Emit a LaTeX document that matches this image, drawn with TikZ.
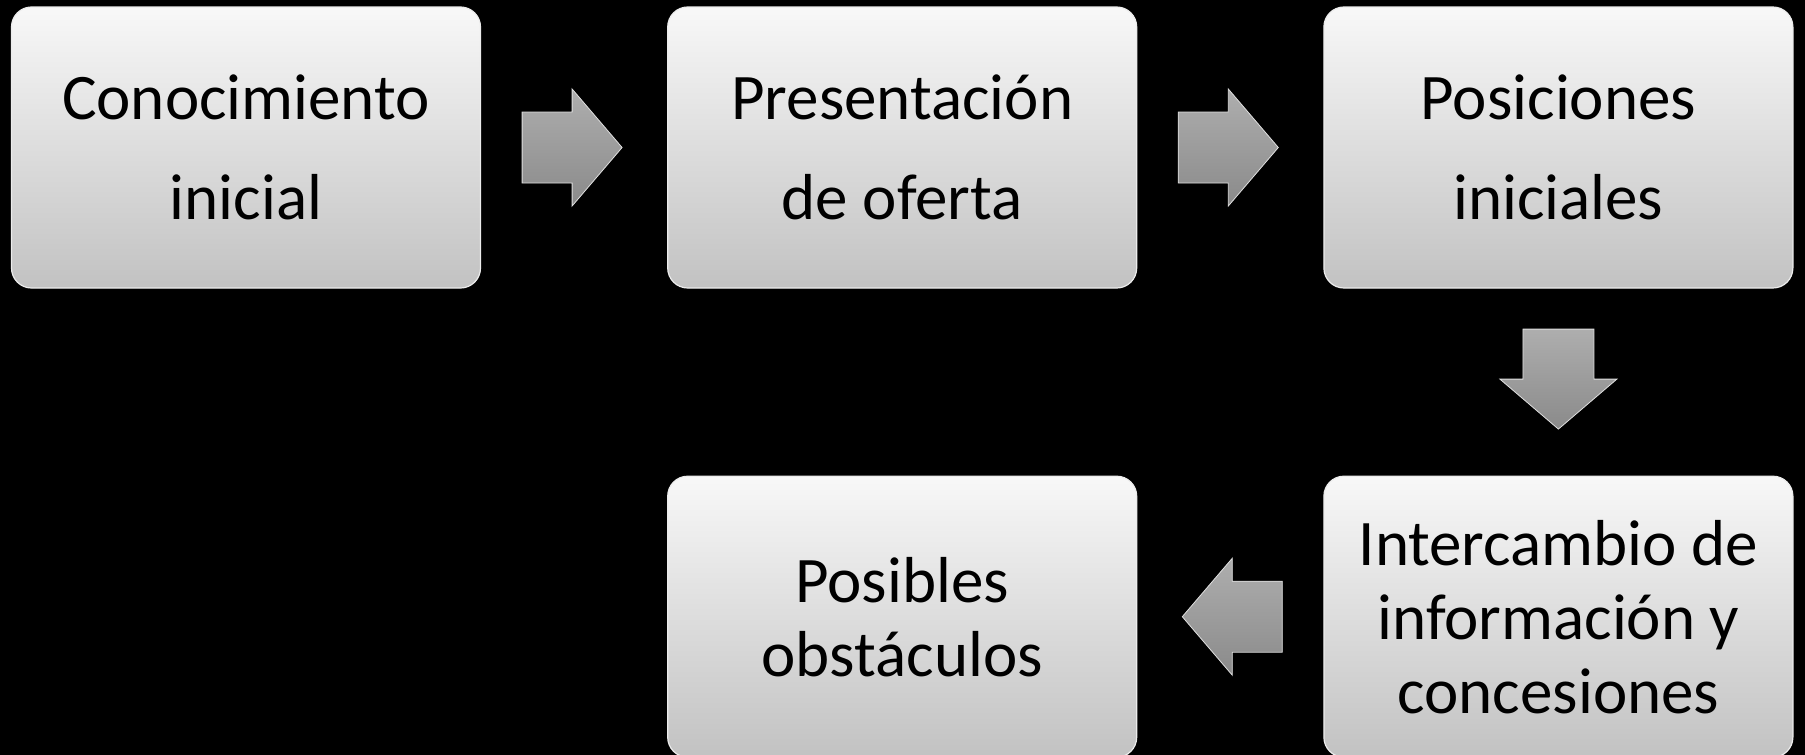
\documentclass[tikz,border=0pt]{standalone}
\usepackage{fontspec}
\setmainfont{Carlito}
\usetikzlibrary{positioning,calc}
\definecolor{cajaarriba}{RGB}{248,248,248}
\definecolor{cajaabajo}{RGB}{194,194,194}
\definecolor{flechaclara}{RGB}{174,174,174}
\definecolor{flechaoscura}{RGB}{138,138,138}
\tikzset{
  caja/.style={rectangle, rounded corners=20pt, draw=white!85!gray, line width=1.2pt,
    top color=cajaarriba, bottom color=cajaabajo, minimum width=469pt, minimum height=281pt,
    align=center, text=black, inner sep=0pt},
  textoalto/.style={font=\fontsize{65}{100}\selectfont},
  textobajo/.style={font=\fontsize{65}{74}\selectfont},
  flecha/.style={draw=white!75!gray, line width=0.8pt, line join=miter,
    top color=flechaclara, bottom color=flechaoscura},
  flechabloque/.pic={
    \path[flecha] (-50pt,35.5pt) -- (0pt,35.5pt) -- (0pt,58.5pt) -- (50pt,0pt)
      -- (0pt,-58.5pt) -- (0pt,-35.5pt) -- (-50pt,-35.5pt) -- cycle;
  }
}
\begin{document}
\begin{tikzpicture}
        %%%%%%%%%%%%%%%%%%%%%%%% Fondo %%%%%%%%%%%%%%%%%%%%%%%%%%%%%%%%%%%
        \fill[black] (0,0) rectangle (1805pt,-755pt);
        \useasboundingbox (0,0) rectangle (1805pt,-755pt);
        %%%%%%%%%%%%%%%%%%%%%%%% Fila superior %%%%%%%%%%%%%%%%%%%%%%%%%%%%
        \node[caja, textoalto] (conoc) at (246pt,-147.5pt) {Conocimiento\\inicial};
        \node[caja, textoalto, right=186pt of conoc] (presen) {Presentación\\de oferta};
        \node[caja, textoalto, right=186pt of presen] (posic) {Posiciones\\iniciales};
        %%%%%%%%%%%%%%%%%%%%%%%% Fila inferior %%%%%%%%%%%%%%%%%%%%%%%%%%%%
        \node[caja, textobajo, below=187pt of posic] (inter) {Intercambio de\\información y\\concesiones};
        \node[caja, textobajo, below=187pt of presen] (obst) {Posibles\\obstáculos};
        %%%%%%%%%%%%%%%%%%%%%%%% Flechas %%%%%%%%%%%%%%%%%%%%%%%%%%%%%%%%%%
        \pic (f1) at ($(conoc.east)!0.5!(presen.west)+(-2pt,0)$) {flechabloque}; %Derecha
        \pic (f2) at ($(presen.east)!0.5!(posic.west)+(-2pt,0)$) {flechabloque}; %Derecha
        \pic[rotate=-90] (f3) at ($(posic.south)!0.5!(inter.north)+(0,3pt)$) {flechabloque}; %Abajo
        \pic[rotate=180] (f4) at ($(inter.west)!0.5!(obst.east)+(2pt,0)$) {flechabloque}; %Izquierda
      \end{tikzpicture}
\end{document}
